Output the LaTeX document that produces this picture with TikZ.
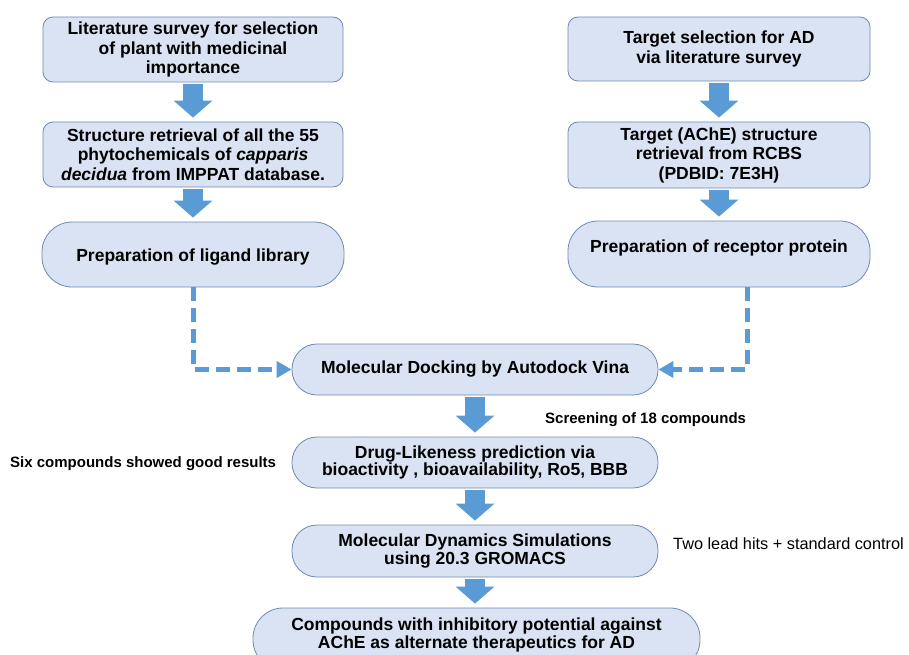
\documentclass[tikz,border=0pt]{standalone}
\usepackage{fontspec}
\setmainfont{Liberation Sans}
\usetikzlibrary{arrows.meta}
\definecolor{boxfill}{RGB}{218,227,243}
\definecolor{boxline}{RGB}{110,138,175}
\definecolor{arrowblue}{RGB}{91,155,213}
\begin{document}
\begin{tikzpicture}[x=1pt,y=-1pt,
 stepbox/.style={draw=boxline, fill=boxfill, line width=0.8pt, align=center, inner sep=0pt, text=black},
 sqbox/.style={stepbox, rounded corners=10pt, font=\fontsize{17.5}{19.5}\selectfont\bfseries},
 pillbox/.style={stepbox, rounded corners=25pt, font=\fontsize{17.5}{17.5}\selectfont\bfseries},
 flowarrow/.style={arrowblue, line width=20pt, -{Triangle[length=17pt,width=38pt]}, shorten <=2pt, shorten >=4pt},
 dashconn/.style={arrowblue, line width=5pt, dash pattern=on 14pt off 7pt, -{Triangle[length=15pt,width=16pt]}},
 sidenote/.style={font=\fontsize{15}{18}\selectfont\bfseries, anchor=west, inner sep=0pt},
 sidenotereg/.style={font=\fontsize{16.3}{18}\selectfont, anchor=west, inner sep=0pt}
]
\useasboundingbox (0,0) rectangle (909,655);

% left column
\node[sqbox, minimum width=300pt, minimum height=65pt] (lit) at (193,49.5)
  {Literature survey for selection\\ of plant with medicinal\\ importance};
\node[sqbox, minimum width=300pt, minimum height=65pt] (str) at (193,154.5)
  {Structure retrieval of all the 55\\ phytochemicals of \textit{capparis}\\ \textit{decidua} from IMPPAT database.};
\node[pillbox, rounded corners=30pt, minimum width=302pt, minimum height=65pt, text height=18pt] (lig) at (193,254.5)
  {Preparation of ligand library};

% right column
\node[sqbox, minimum width=302pt, minimum height=64pt] (tgt) at (719,49)
  {Target selection for AD\\ via literature survey};
\node[sqbox, minimum width=302pt, minimum height=66pt] (ret) at (719,155)
  {Target (AChE) structure\\ retrieval from RCBS\\ (PDBID: 7E3H)};
\node[pillbox, rounded corners=30pt, minimum width=302pt, minimum height=66pt, text depth=16pt] (rec) at (719,254)
  {Preparation of receptor protein};

% central chain
\node[pillbox, minimum width=366pt, minimum height=51pt] (dock) at (475,369.5)
  {Molecular Docking by Autodock Vina};
\node[pillbox, minimum width=366pt, minimum height=51pt] (drug) at (475,462.5)
  {Drug-Likeness prediction via\\ bioactivity , bioavailability, Ro5, BBB};
\node[pillbox, minimum width=366pt, minimum height=52pt] (md) at (475,551)
  {Molecular Dynamics Simulations\\ using 20.3 GROMACS};
\node[pillbox, rounded corners=30pt, minimum width=447pt, minimum height=62pt, text depth=12pt] (fin) at (476.5,639)
  {Compounds with inhibitory potential against\\ AChE as alternate therapeutics for AD};

% block arrows
\draw[flowarrow] (lit) -- (str);
\draw[flowarrow] (str) -- (lig);
\draw[flowarrow] (tgt) -- (ret);
\draw[flowarrow] (ret) -- (rec);
\draw[flowarrow] (dock) -- (drug);
\draw[flowarrow] (drug) -- (md);
\draw[flowarrow] (md.south) -- (md.south |- fin.north);

% dashed connectors
\draw[dashconn] (lig.south) |- (dock.west);
\draw[dashconn] ([xshift=28pt]rec.south) |- (dock.east);

% side notes
\node[sidenote] (scr) at (545,420) {Screening of 18 compounds};
\node[sidenote] (six) at (10,464) {Six compounds showed good results};
\node[sidenotereg] (two) at (673,544) {Two lead hits + standard control};
\end{tikzpicture}
\end{document}
